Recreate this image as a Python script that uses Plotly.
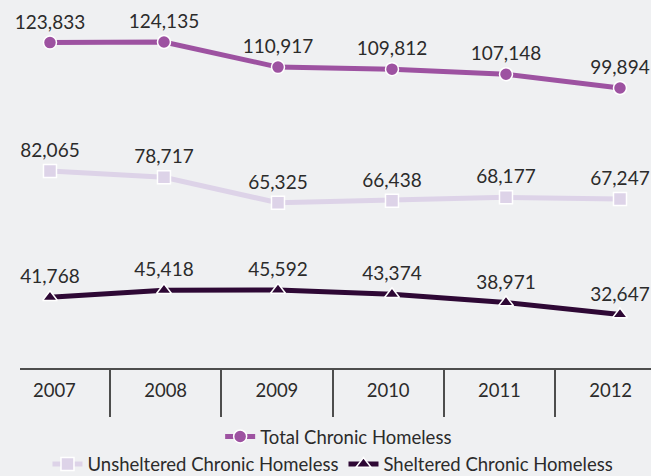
import plotly.graph_objects as go

years = ["2007", "2008", "2009", "2010", "2011", "2012"]
total = [123833, 124135, 110917, 109812, 107148, 99894]
unsheltered = [82065, 78717, 65325, 66438, 68177, 67247]
sheltered = [41768, 45418, 45592, 43374, 38971, 32647]

BG = "#eff0f2"
C_TOTAL = "#9d52a1"
C_UNSH = "#ddd3e8"
C_SH = "#2e0835"
FONT = "Lato"
TXT = "#2b2b2b"

PLOT_H = 368          # plot area height in px
PER_PX = 527          # value units per pixel (same for each series band)


def yrange(anchor_val, anchor_px):
    top = anchor_val + anchor_px * PER_PX
    return [top - PLOT_H * PER_PX, top]


fig = go.Figure()

series = [
    ("Total Chronic Homeless", total, C_TOTAL, "circle", "y", "legend", 13),
    ("Unsheltered Chronic Homeless", unsheltered, C_UNSH, "square", "y2", "legend2", 13),
    ("Sheltered Chronic Homeless", sheltered, C_SH, "triangle-up", "y3", "legend2", 13),
]
for name, vals, col, sym, ya, leg, ms in series:
    fig.add_trace(go.Scatter(
        x=years, y=vals, name=name, mode="lines+markers+text",
        xaxis="x", yaxis=ya, legend=leg,
        line=dict(color=col, width=5),
        marker=dict(symbol=sym, size=ms, color=col, line=dict(color="white", width=1.5)),
        text=[f"{v:,}" for v in vals], textposition="top center",
        textfont=dict(family=FONT, size=19, color=TXT),
        cliponaxis=False, hoverinfo="skip",
    ))

# helper traces so the decorative category axes exist
idx = list(range(len(years)))
fig.add_trace(go.Scatter(x=idx, y=[None] * len(idx), xaxis="x2", yaxis="y",
                         showlegend=False, hoverinfo="skip", mode="lines"))
fig.add_trace(go.Scatter(x=idx, y=[None] * len(idx), xaxis="x3", yaxis="y",
                         showlegend=False, hoverinfo="skip", mode="lines"))

fig.update_layout(
    width=651, height=476,
    margin=dict(l=20, r=0, t=0, b=108),
    paper_bgcolor=BG, plot_bgcolor=BG,
    font=dict(family=FONT, color=TXT),
    hovermode=False,
    xaxis=dict(type="category", range=[-0.263, 5.272], visible=False),
    xaxis2=dict(overlaying="x", anchor="y", side="bottom", range=[-0.309, 5.363],
                tickmode="array", tickvals=[0.5, 1.5, 2.5, 3.5, 4.5],
                showticklabels=False, ticks="outside", ticklen=47, tickwidth=1.5,
                tickcolor="#4d4d4d", showline=True, linecolor="#4d4d4d", linewidth=2,
                showgrid=False, zeroline=False),
    xaxis3=dict(overlaying="x", anchor="y", side="bottom", range=[-0.309, 5.363],
                tickmode="array", tickvals=idx, ticktext=years,
                ticks="outside", ticklen=6, tickcolor="rgba(0,0,0,0)",
                tickfont=dict(family=FONT, size=18.5, color=TXT),
                showline=False, showgrid=False, zeroline=False),
    yaxis=dict(range=yrange(124135, 42), visible=False),
    yaxis2=dict(range=yrange(82065, 171), overlaying="y", visible=False),
    yaxis3=dict(range=yrange(45592, 290), overlaying="y", visible=False),
    legend=dict(orientation="h", xref="paper", x=0.505, xanchor="center",
                yref="container", y=0.082, yanchor="middle",
                bgcolor="rgba(0,0,0,0)", font=dict(family=FONT, size=18.5, color=TXT)),
    legend2=dict(orientation="h", xref="paper", x=0.496, xanchor="center",
                 yref="container", y=0.024, yanchor="middle",
                 bgcolor="rgba(0,0,0,0)", font=dict(family=FONT, size=18.5, color=TXT)),
)

fig.write_html("out.html", config={"displayModeBar": False},
               post_script="document.body.style.margin='0';")
